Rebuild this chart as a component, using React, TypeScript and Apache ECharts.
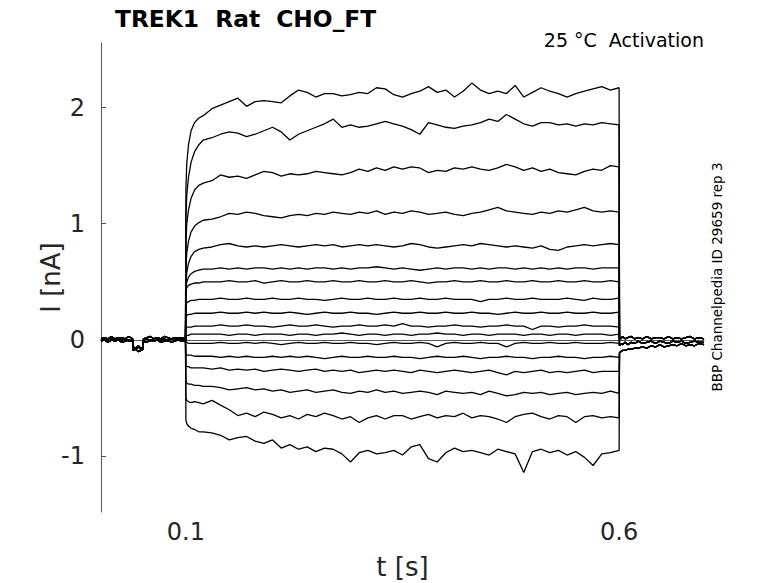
import { useEffect, useRef } from "react";
import * as echarts from "echarts";

const FONT = '"DejaVu Sans", "Liberation Sans", sans-serif';

// time points [s]
const baseT = [
  0.002, 0.006, 0.01, 0.014, 0.018, 0.022, 0.026, 0.03, 0.034, 0.0385,
  0.039, 0.042, 0.045, 0.048, 0.0505,
  0.051, 0.055, 0.059, 0.063, 0.067, 0.071, 0.075, 0.079, 0.083, 0.087,
  0.091, 0.095, 0.0995,
];
const pulseT = [
  0.1, 0.101, 0.103, 0.106, 0.11, 0.115, 0.12,
  0.13, 0.14, 0.15, 0.16, 0.17, 0.18, 0.19, 0.2, 0.21, 0.22,
  0.23, 0.24, 0.25, 0.26, 0.27, 0.28, 0.29, 0.3, 0.31, 0.32,
  0.33, 0.34, 0.35, 0.36, 0.37, 0.38, 0.39, 0.4, 0.41, 0.42,
  0.43, 0.44, 0.45, 0.46, 0.47, 0.48, 0.49, 0.5, 0.51, 0.52,
  0.53, 0.54, 0.55, 0.56, 0.57, 0.58, 0.59, 0.6,
];
const tailT = [
  0.6005, 0.602, 0.604, 0.607, 0.61, 0.614, 0.618, 0.622, 0.627, 0.632,
  0.637, 0.642, 0.647, 0.652, 0.657, 0.662, 0.667, 0.672, 0.677, 0.682,
  0.687, 0.692, 0.698,
];

// holding current before the step [nA]
const baseA = [
  0.0, 0.01, -0.01, 0.01, 0.0, 0.02, 0.0, 0.01, -0.01, 0.0,
  -0.07, -0.08, -0.06, -0.08, -0.07,
  0.0, 0.01, -0.01, 0.01, 0.02, 0.0, 0.01, -0.01, 0.01, 0.0,
  0.02, 0.0, 0.0,
];
const baseB = [
  -0.01, 0.0, -0.02, 0.0, -0.01, 0.0, -0.02, -0.01, 0.0, -0.01,
  -0.09, -0.08, -0.1, -0.09, -0.08,
  -0.01, -0.02, 0.0, -0.01, 0.0, -0.02, -0.01, 0.0, -0.02, -0.01,
  0.0, -0.01, -0.01,
];
const baseC = [
  0.01, 0.02, 0.01, 0.03, 0.01, 0.02, 0.02, 0.01, 0.03, 0.01,
  -0.06, -0.07, -0.05, -0.07, -0.06,
  0.01, 0.02, 0.03, 0.01, 0.02, 0.01, 0.03, 0.02, 0.01, 0.02,
  0.01, 0.02, 0.01,
];

// current after the step back [nA]
const tailHi = [
  0.02, 0.01, 0.03, 0.01, 0.02, 0.03, 0.01, 0.02, 0.01, 0.03,
  0.01, 0.02, 0.02, 0.01, 0.03, 0.01, 0.02, 0.01, 0.02, 0.03,
  0.01, 0.02, 0.01,
];
const tailMid = [
  -0.05, -0.03, -0.04, -0.02, -0.04, -0.02, -0.03, -0.01, -0.03, -0.02,
  -0.01, -0.03, -0.01, -0.02, -0.03, -0.01, -0.02, -0.01, -0.03, -0.02,
  -0.01, -0.02, -0.02,
];
const tailLo = [
  -0.11, -0.1, -0.09, -0.09, -0.08, -0.08, -0.07, -0.07, -0.06, -0.07,
  -0.05, -0.06, -0.04, -0.06, -0.05, -0.04, -0.05, -0.03, -0.05, -0.04,
  -0.05, -0.03, -0.04,
];

// current during the voltage step [nA], one array per sweep
const trace01 = [
  1.3, 1.52, 1.68, 1.8, 1.87, 1.91, 1.93,
  1.99, 2.02, 2.05, 2.08, 2.01, 2.05, 2.06, 2.05, 2.04, 2.1,
  2.15, 2.13, 2.09, 2.12, 2.12, 2.1, 2.11, 2.13, 2.12, 2.17,
  2.16, 2.11, 2.09, 2.12, 2.14, 2.18, 2.13, 2.15, 2.09, 2.14,
  2.21, 2.15, 2.12, 2.14, 2.12, 2.19, 2.09, 2.13, 2.17, 2.14,
  2.12, 2.09, 2.12, 2.14, 2.16, 2.18, 2.15, 2.17,
];
const trace02 = [
  1.05, 1.25, 1.4, 1.53, 1.62, 1.68, 1.72,
  1.74, 1.77, 1.79, 1.78, 1.75, 1.77, 1.8, 1.83, 1.79, 1.72,
  1.77, 1.8, 1.83, 1.86, 1.9, 1.83, 1.85, 1.83, 1.84, 1.86,
  1.88, 1.86, 1.84, 1.81, 1.77, 1.87, 1.85, 1.83, 1.82, 1.84,
  1.85, 1.87, 1.9, 1.88, 1.94, 1.9, 1.86, 1.84, 1.87, 1.87,
  1.85, 1.86, 1.84, 1.86, 1.85, 1.87, 1.86, 1.85,
];
const trace03 = [
  0.85, 1.0, 1.12, 1.22, 1.29, 1.33, 1.35,
  1.37, 1.42, 1.4, 1.41, 1.39, 1.42, 1.45, 1.44, 1.41, 1.43,
  1.42, 1.43, 1.45, 1.44, 1.43, 1.42, 1.44, 1.47, 1.45, 1.48,
  1.46, 1.49, 1.47, 1.49, 1.48, 1.44, 1.46, 1.45, 1.48, 1.47,
  1.49, 1.47, 1.46, 1.48, 1.51, 1.49, 1.46, 1.48, 1.45, 1.47,
  1.44, 1.43, 1.42, 1.45, 1.47, 1.46, 1.5, 1.49,
];
const trace04 = [
  0.62, 0.75, 0.85, 0.93, 0.98, 1.01, 1.03,
  1.04, 1.06, 1.09, 1.08, 1.1, 1.09, 1.07, 1.06, 1.05, 1.07,
  1.08, 1.07, 1.09, 1.08, 1.1, 1.09, 1.08, 1.1, 1.09, 1.11,
  1.08, 1.1, 1.09, 1.11, 1.1, 1.08, 1.09, 1.1, 1.08, 1.07,
  1.09, 1.1, 1.12, 1.14, 1.11, 1.1, 1.09, 1.08, 1.1, 1.09,
  1.11, 1.1, 1.12, 1.14, 1.11, 1.1, 1.11, 1.1,
];
const trace05 = [
  0.48, 0.58, 0.66, 0.72, 0.76, 0.78, 0.79,
  0.8, 0.82, 0.83, 0.81, 0.8, 0.81, 0.8, 0.81, 0.82, 0.81,
  0.8, 0.81, 0.82, 0.81, 0.82, 0.8, 0.81, 0.82, 0.81, 0.82,
  0.81, 0.8, 0.81, 0.83, 0.82, 0.8, 0.79, 0.8, 0.81, 0.82,
  0.81, 0.83, 0.82, 0.81, 0.8, 0.81, 0.8, 0.79, 0.81, 0.78,
  0.77, 0.8, 0.81, 0.82, 0.81, 0.82, 0.83, 0.82,
];
const trace06 = [
  0.44, 0.5, 0.54, 0.57, 0.59, 0.6, 0.61,
  0.61, 0.62, 0.61, 0.62, 0.61, 0.62, 0.62, 0.61, 0.62, 0.61,
  0.62, 0.61, 0.62, 0.62, 0.61, 0.62, 0.61, 0.62, 0.62, 0.63,
  0.62, 0.61, 0.62, 0.61, 0.6, 0.61, 0.62, 0.61, 0.62, 0.62,
  0.61, 0.62, 0.61, 0.62, 0.62, 0.61, 0.62, 0.61, 0.62, 0.61,
  0.62, 0.61, 0.62, 0.62, 0.61, 0.62, 0.62, 0.62,
];
const trace07 = [
  0.42, 0.45, 0.47, 0.48, 0.49, 0.49, 0.5,
  0.5, 0.5, 0.51, 0.5, 0.5, 0.51, 0.49, 0.5, 0.51, 0.5,
  0.5, 0.51, 0.5, 0.5, 0.51, 0.5, 0.5, 0.51, 0.5, 0.5,
  0.51, 0.5, 0.5, 0.51, 0.5, 0.49, 0.5, 0.5, 0.51, 0.5,
  0.5, 0.51, 0.5, 0.5, 0.51, 0.5, 0.5, 0.51, 0.5, 0.5,
  0.51, 0.5, 0.5, 0.51, 0.5, 0.5, 0.51, 0.5,
];
const trace08 = [
  0.31, 0.32, 0.33, 0.34, 0.34, 0.35, 0.35,
  0.35, 0.36, 0.35, 0.35, 0.36, 0.35, 0.35, 0.36, 0.35, 0.35,
  0.36, 0.35, 0.35, 0.34, 0.35, 0.36, 0.35, 0.35, 0.36, 0.35,
  0.35, 0.36, 0.35, 0.35, 0.36, 0.35, 0.35, 0.36, 0.35, 0.35,
  0.35, 0.33, 0.35, 0.35, 0.36, 0.35, 0.35, 0.36, 0.35, 0.35,
  0.35, 0.36, 0.35, 0.34, 0.36, 0.35, 0.35, 0.36,
];
const trace09 = [
  0.2, 0.21, 0.22, 0.22, 0.23, 0.23, 0.23,
  0.23, 0.24, 0.23, 0.23, 0.24, 0.23, 0.24, 0.23, 0.23, 0.24,
  0.23, 0.22, 0.23, 0.24, 0.23, 0.23, 0.24, 0.23, 0.23, 0.22,
  0.23, 0.24, 0.23, 0.23, 0.24, 0.23, 0.23, 0.24, 0.23, 0.23,
  0.24, 0.23, 0.23, 0.22, 0.23, 0.24, 0.23, 0.23, 0.24, 0.23,
  0.23, 0.24, 0.23, 0.23, 0.24, 0.23, 0.23, 0.24,
];
const trace10 = [
  0.1, 0.11, 0.11, 0.11, 0.12, 0.12, 0.12,
  0.12, 0.13, 0.12, 0.12, 0.13, 0.12, 0.12, 0.11, 0.12, 0.13,
  0.12, 0.12, 0.13, 0.12, 0.11, 0.12, 0.12, 0.13, 0.12, 0.12,
  0.13, 0.12, 0.14, 0.12, 0.12, 0.11, 0.12, 0.12, 0.13, 0.12,
  0.12, 0.11, 0.12, 0.12, 0.13, 0.12, 0.12, 0.09, 0.12, 0.12,
  0.11, 0.12, 0.12, 0.13, 0.12, 0.12, 0.12, 0.11,
];
const trace11 = [
  0.04, 0.04, 0.04, 0.05, 0.05, 0.05, 0.05,
  0.05, 0.05, 0.04, 0.05, 0.05, 0.04, 0.05, 0.05, 0.05, 0.04,
  0.05, 0.05, 0.04, 0.05, 0.05, 0.06, 0.05, 0.04, 0.05, 0.05,
  0.04, 0.05, 0.05, 0.04, 0.05, 0.05, 0.06, 0.05, 0.05, 0.04,
  0.05, 0.05, 0.04, 0.05, 0.05, 0.05, 0.04, 0.05, 0.05, 0.04,
  0.05, 0.05, 0.04, 0.05, 0.05, 0.05, 0.04, 0.05,
];
const trace12 = [
  -0.02, -0.02, -0.03, -0.03, -0.03, -0.03, -0.03,
  -0.03, -0.02, -0.03, -0.03, -0.02, -0.03, -0.02, -0.03, -0.04, -0.03,
  -0.02, -0.03, -0.03, -0.02, -0.03, -0.03, -0.02, -0.03, -0.03, -0.04,
  -0.03, -0.02, -0.03, -0.03, -0.02, -0.03, -0.06, -0.03, -0.02, -0.03,
  -0.03, -0.02, -0.03, -0.03, -0.06, -0.03, -0.02, -0.03, -0.03, -0.02,
  -0.03, -0.03, -0.02, -0.03, -0.03, -0.03, -0.02, -0.03,
];
const trace13 = [
  -0.12, -0.13, -0.13, -0.13, -0.14, -0.14, -0.14,
  -0.14, -0.15, -0.14, -0.15, -0.14, -0.15, -0.15, -0.14, -0.15, -0.14,
  -0.15, -0.14, -0.15, -0.16, -0.15, -0.14, -0.15, -0.15, -0.14, -0.15,
  -0.15, -0.14, -0.15, -0.15, -0.16, -0.15, -0.14, -0.15, -0.15, -0.14,
  -0.15, -0.16, -0.15, -0.15, -0.14, -0.15, -0.15, -0.16, -0.15, -0.15,
  -0.14, -0.15, -0.15, -0.16, -0.15, -0.15, -0.14, -0.15,
];
const trace14 = [
  -0.22, -0.23, -0.23, -0.24, -0.24, -0.24, -0.24,
  -0.25, -0.24, -0.26, -0.25, -0.26, -0.25, -0.27, -0.26, -0.25, -0.26,
  -0.27, -0.26, -0.25, -0.27, -0.26, -0.27, -0.26, -0.28, -0.27, -0.26,
  -0.27, -0.26, -0.27, -0.28, -0.26, -0.27, -0.28, -0.27, -0.26, -0.27,
  -0.28, -0.27, -0.26, -0.28, -0.3, -0.27, -0.28, -0.27, -0.26, -0.28,
  -0.27, -0.28, -0.27, -0.26, -0.28, -0.27, -0.27, -0.27,
];
const trace15 = [
  -0.36, -0.37, -0.38, -0.38, -0.39, -0.39, -0.4,
  -0.4, -0.41, -0.43, -0.42, -0.41, -0.43, -0.42, -0.44, -0.43, -0.45,
  -0.44, -0.43, -0.45, -0.44, -0.43, -0.45, -0.46, -0.44, -0.45, -0.43,
  -0.45, -0.44, -0.46, -0.45, -0.44, -0.45, -0.47, -0.44, -0.45, -0.46,
  -0.45, -0.47, -0.44, -0.46, -0.48, -0.47, -0.45, -0.46, -0.45, -0.47,
  -0.46, -0.45, -0.47, -0.46, -0.45, -0.46, -0.44, -0.46,
];
const trace16 = [
  -0.5, -0.52, -0.53, -0.54, -0.53, -0.54, -0.55,
  -0.52, -0.56, -0.6, -0.65, -0.63, -0.66, -0.62, -0.64, -0.67, -0.65,
  -0.68, -0.64, -0.66, -0.63, -0.65, -0.68, -0.66, -0.71, -0.67, -0.65,
  -0.68, -0.65, -0.65, -0.68, -0.66, -0.64, -0.67, -0.65, -0.66, -0.63,
  -0.67, -0.65, -0.66, -0.68, -0.71, -0.66, -0.64, -0.63, -0.66, -0.68,
  -0.65, -0.66, -0.71, -0.66, -0.65, -0.67, -0.66, -0.67,
];
const trace17 = [
  -0.69, -0.72, -0.74, -0.76, -0.77, -0.79, -0.79,
  -0.8, -0.82, -0.86, -0.84, -0.83, -0.87, -0.89, -0.86, -0.93, -0.9,
  -0.94, -0.92, -0.96, -0.93, -0.94, -0.98, -1.05, -0.97, -0.95, -0.98,
  -0.97, -0.95, -0.99, -0.92, -0.9, -1.02, -1.05, -0.97, -0.93, -0.96,
  -0.95, -0.97, -0.99, -0.94, -0.96, -0.98, -1.14, -0.96, -0.94, -0.97,
  -0.95, -0.99, -0.96, -1.01, -1.08, -0.98, -0.97, -0.95,
];

const sweeps = [
  trace01, trace02, trace03, trace04, trace05, trace06, trace07, trace08, trace09,
  trace10, trace11, trace12, trace13, trace14, trace15, trace16, trace17,
];
const sweepBase = [
  baseA, baseB, baseC, baseA, baseB, baseC, baseA, baseB, baseC,
  baseA, baseB, baseC, baseA, baseB, baseC, baseA, baseB,
];
const sweepTail = [
  tailHi, tailHi, tailHi, tailHi, tailHi, tailHi, tailMid, tailMid, tailMid,
  tailMid, tailMid, tailMid, tailLo, tailLo, tailLo, tailLo, tailLo,
];

const xTicks = [0.1, 0.6];
const yTicks = [-1, 0, 1, 2];

export default function App() {
  const ref = useRef<HTMLDivElement>(null);

  useEffect(() => {
    const el = ref.current;
    if (!el) return;
    const chart = echarts.init(el, undefined, { renderer: "svg" });

    const series = sweeps.map((sw, i) => {
      const data: number[][] = [];
      sweepBase[i].forEach((v, k) => data.push([baseT[k], v]));
      sw.forEach((v, k) => data.push([pulseT[k], v]));
      sweepTail[i].forEach((v, k) => data.push([tailT[k], v]));
      return {
        type: "line",
        data,
        symbol: "none",
        silent: true,
        lineStyle: { color: "#000", width: 1.3 },
      };
    });

    const axisColor = "#555";
    const labelColor = "#262626";

    chart.setOption({
      animation: false,
      backgroundColor: "#fff",
      grid: { left: 101, right: 74, top: 43, bottom: 71 },
      xAxis: {
        type: "value",
        min: 0.002,
        max: 0.698,
        axisLine: { show: true, lineStyle: { color: axisColor, width: 1 } },
        axisTick: { show: true, inside: true, length: 5, customValues: xTicks, lineStyle: { color: axisColor } },
        axisLabel: { customValues: xTicks, fontSize: 24, fontFamily: FONT, color: labelColor, margin: 8 },
        splitLine: { show: false },
      },
      yAxis: {
        type: "value",
        min: -1.48,
        max: 2.555,
        axisLine: { show: true, lineStyle: { color: axisColor, width: 1 } },
        axisTick: { show: true, inside: true, length: 5, customValues: yTicks, lineStyle: { color: axisColor } },
        axisLabel: { customValues: yTicks, fontSize: 24, fontFamily: FONT, color: labelColor, margin: 16 },
        splitLine: { show: false },
      },
      graphic: [
        {
          type: "text",
          x: 115,
          y: 18,
          style: {
            text: "TREK1  Rat  CHO_FT",
            font: `bold 23.3px ${FONT}`,
            fill: "#000",
            align: "left",
            verticalAlign: "middle",
          },
        },
        {
          type: "text",
          x: 704,
          y: 40,
          style: {
            text: "25 °C  Activation",
            font: `19px ${FONT}`,
            fill: "#000",
            align: "right",
            verticalAlign: "middle",
          },
        },
        {
          type: "text",
          x: 51,
          y: 277.5,
          rotation: Math.PI / 2,
          style: {
            text: "I [nA]",
            font: `26px ${FONT}`,
            fill: labelColor,
            align: "center",
            verticalAlign: "middle",
          },
        },
        {
          type: "text",
          x: 402.5,
          y: 567,
          style: {
            text: "t [s]",
            font: `26px ${FONT}`,
            fill: labelColor,
            align: "center",
            verticalAlign: "middle",
          },
        },
        {
          type: "text",
          x: 717,
          y: 277,
          rotation: Math.PI / 2,
          style: {
            text: "BBP Channelpedia ID 29659 rep 3",
            font: `13.5px ${FONT}`,
            fill: "#000",
            align: "center",
            verticalAlign: "middle",
          },
        },
      ],
      series,
    });

    return () => chart.dispose();
  }, []);

  return (
    <div
      ref={ref}
      style={{ position: "fixed", left: 0, top: 0, width: 778, height: 583, background: "#fff" }}
    />
  );
}
